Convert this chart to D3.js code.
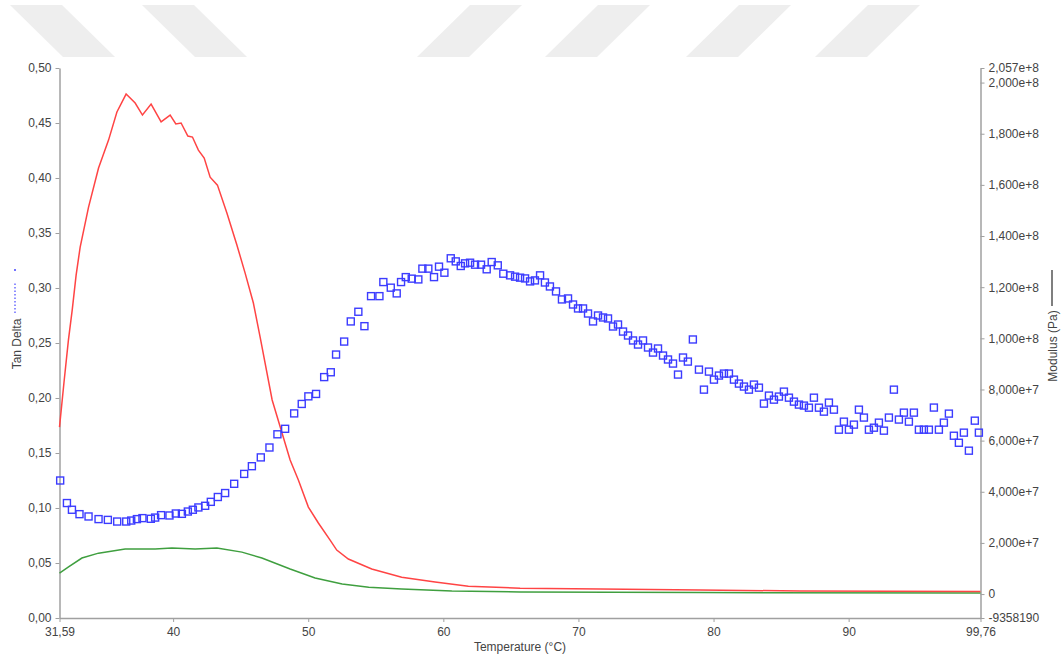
<!DOCTYPE html>
<html>
<head>
<meta charset="utf-8">
<script src="https://cdn.jsdelivr.net/npm/d3@7"></script>
<style>
	body { margin: 0; background: #fff; }
	svg { display: block; font-family: "Liberation Sans", Arial, sans-serif; }
</style>
</head>
<body>
<svg id="chart" width="1062" height="659"></svg>
<script>
// tan delta (left axis), blue squares
const tanTemp = [31.64, 32.14, 32.51, 33.07, 33.74, 34.48, 35.17, 35.86, 36.53, 36.90, 37.32, 37.73, 38.35, 38.67, 39.11, 39.73, 40.20, 40.65, 41.09, 41.46, 41.87, 42.37, 42.79, 43.31, 43.85, 44.52, 45.26, 45.83, 46.49, 47.13, 47.72, 48.29, 48.96, 49.52, 50.01, 50.58, 51.18, 51.67, 52.06, 52.66, 53.15, 53.71, 54.16, 54.65, 55.27, 55.56, 56.11, 56.55, 56.87, 57.22, 57.66, 58.15, 58.45, 58.89, 59.31, 59.68, 60.08, 60.55, 60.92, 61.29, 61.61, 61.98, 62.35, 62.79, 63.21, 63.58, 64.03, 64.44, 64.94, 65.31, 65.68, 66.05, 66.42, 66.78, 67.16, 67.52, 67.89, 68.34, 68.78, 69.23, 69.60, 69.97, 70.34, 70.71, 71.08, 71.45, 71.82, 72.19, 72.56, 72.93, 73.30, 73.67, 74.04, 74.41, 74.78, 75.15, 75.52, 75.89, 76.26, 76.63, 77.00, 77.37, 77.74, 78.10, 78.47, 78.92, 79.29, 79.66, 80.03, 80.40, 80.77, 81.14, 81.51, 81.88, 82.25, 82.62, 82.99, 83.36, 83.73, 84.10, 84.47, 84.84, 85.21, 85.58, 85.95, 86.32, 86.69, 87.06, 87.43, 87.80, 88.17, 88.54, 88.91, 89.28, 89.65, 90.02, 90.39, 90.76, 91.13, 91.50, 91.87, 92.24, 92.61, 92.98, 93.35, 93.72, 94.09, 94.46, 94.83, 95.20, 95.57, 95.94, 96.31, 96.68, 97.05, 97.42, 97.79, 98.16, 98.53, 98.90, 99.34, 99.64];
const tanDelta = [0.125, 0.1045, 0.0984, 0.0944, 0.0923, 0.0899, 0.0892, 0.0877, 0.0877, 0.0886, 0.0899, 0.0908, 0.0902, 0.0913, 0.0935, 0.0932, 0.095, 0.0947, 0.0968, 0.0984, 0.1005, 0.102, 0.1056, 0.110, 0.1136, 0.122, 0.131, 0.138, 0.146, 0.155, 0.167, 0.172, 0.186, 0.1946, 0.2015, 0.2037, 0.219, 0.2234, 0.2395, 0.2513, 0.2696, 0.2784, 0.2653, 0.2926, 0.2926, 0.3054, 0.3003, 0.2951, 0.3054, 0.3099, 0.3085, 0.3078, 0.3176, 0.3176, 0.3099, 0.3194, 0.3139, 0.327, 0.3242, 0.320, 0.3224, 0.323, 0.3212, 0.3212, 0.317, 0.3236, 0.3206, 0.313, 0.3115, 0.3103, 0.3094, 0.3087, 0.306, 0.3069, 0.3115, 0.305, 0.3014, 0.2969, 0.2896, 0.2905, 0.285, 0.2814, 0.2814, 0.2768, 0.2696, 0.275, 0.2732, 0.2723, 0.265, 0.2668, 0.2604, 0.2568, 0.2523, 0.2486, 0.2523, 0.2459, 0.2413, 0.245, 0.2386, 0.235, 0.2313, 0.2213, 0.2368, 0.2331, 0.2532, 0.2258, 0.2076, 0.224, 0.2167, 0.2204, 0.2222, 0.2222, 0.2167, 0.2131, 0.2104, 0.2076, 0.2122, 0.2094, 0.1949, 0.2022, 0.1985, 0.2013, 0.2058, 0.2003, 0.1967, 0.194, 0.1931, 0.1912, 0.2003, 0.1912, 0.1876, 0.1958, 0.1894, 0.1712, 0.1785, 0.1712, 0.1758, 0.1894, 0.1822, 0.1712, 0.173, 0.1776, 0.1703, 0.1822, 0.2076, 0.1804, 0.1867, 0.1785, 0.1867, 0.1712, 0.1712, 0.1712, 0.1913, 0.1712, 0.1776, 0.1858, 0.1657, 0.1593, 0.1685, 0.1521, 0.1794, 0.1685];

// storage modulus (right axis, Pa), red line
const storageTemp = [31.59, 31.94, 32.25, 32.53, 32.82, 33.12, 33.74, 34.48, 35.22, 35.84, 36.52, 37.19, 37.73, 38.37, 39.11, 39.78, 40.20, 40.59, 41.09, 41.43, 41.87, 42.30, 42.74, 43.28, 43.98, 44.72, 45.33, 45.94, 46.44, 47.33, 48.66, 49.27, 50.01, 50.75, 51.62, 52.11, 52.97, 54.70, 56.92, 59.39, 61.85, 65.68, 71.6, 79.0, 86.4, 99.76];
const storageMod = [65.3e6, 83.7e6, 99.3e6, 111.0e6, 124.7e6, 135.7e6, 151.3e6, 166.6e6, 177.5e6, 188.5e6, 195.5e6, 192.0e6, 187.3e6, 191.6e6, 184.6e6, 187.3e6, 183.8e6, 184.2e6, 179.1e6, 178.7e6, 173.6e6, 170.5e6, 163.0e6, 159.9e6, 149.0e6, 136.5e6, 125.5e6, 113.8e6, 100.5e6, 75.9e6, 52.4e6, 44.6e6, 34.0e6, 27.8e6, 21.1e6, 17.2e6, 13.7e6, 9.8e6, 6.6e6, 4.7e6, 3.1e6, 2.3e6, 2.0e6, 1.6e6, 1.2e6, 1.0e6];

// loss modulus (right axis, Pa), green line
const lossTemp = [31.59, 32.26, 33.25, 34.48, 36.45, 38.67, 39.91, 41.63, 43.24, 45.09, 46.57, 48.66, 50.51, 52.51, 54.48, 56.92, 60.63, 65.68, 79.0, 99.76];
const lossMod = [8.2e6, 10.6e6, 14.1e6, 16.0e6, 17.6e6, 17.6e6, 18.0e6, 17.6e6, 18.0e6, 16.4e6, 14.1e6, 9.8e6, 6.3e6, 3.9e6, 2.7e6, 2.0e6, 1.2e6, 0.8e6, 0.6e6, 0.4e6];

// tick values and labels
const xTicks = [31.59, 40, 50, 60, 70, 80, 90, 99.76];
const xTickLabels = ["31,59", "40", "50", "60", "70", "80", "90", "99,76"];
const leftTicks = [0, 0.05, 0.10, 0.15, 0.20, 0.25, 0.30, 0.35, 0.40, 0.45, 0.50];
const leftTickLabels = ["0,00", "0,05", "0,10", "0,15", "0,20", "0,25", "0,30", "0,35", "0,40", "0,45", "0,50"];
const rightTicks = [-9358190, 0, 2e7, 4e7, 6e7, 8e7, 1e8, 1.2e8, 1.4e8, 1.6e8, 1.8e8, 2e8, 2.057e8];
const rightTickLabels = ["-9358190", "0", "2,000e+7", "4,000e+7", "6,000e+7", "8,000e+7", "1,000e+8", "1,200e+8", "1,400e+8", "1,600e+8", "1,800e+8", "2,000e+8", "2,057e+8"];

const svg = d3.select("#chart");

// faint watermark stripes along the top
const stripes = [
	{ top: 10, dir: 1 }, { top: 142, dir: 1 },
	{ top: 470, dir: -1 }, { top: 598, dir: -1 }, { top: 739, dir: -1 }, { top: 868, dir: -1 }
];
svg.append("g")
	.selectAll("path")
	.data(stripes)
	.enter()
	.append("path")
	.attr("d", (d) => {
		const w = 52, s = 53 * d.dir;
		return "M" + d.top + ",5 L" + (d.top + w) + ",5 L" + (d.top + w + s) + ",57 L" + (d.top + s) + ",57 Z";
	})
	.attr("fill", "#eeeeee");

const x = d3.scaleLinear().domain([31.59, 99.76]).range([59.5, 980.5]);
const yL = d3.scaleLinear().domain([0, 0.5]).range([618, 68]);
const yR = d3.scaleLinear().domain([-9358190, 2.057e8]).range([618, 68]);

function styleAxis(g) {
	g.select(".domain").attr("stroke", "#a0a0a0").attr("stroke-width", 1.5);
	g.selectAll(".tick line").attr("stroke", "#a0a0a0");
	g.selectAll(".tick text").attr("fill", "#444").style("font-size", "12px");
}

svg.append("g")
	.attr("transform", "translate(0,618)")
	.call(d3.axisBottom(x).tickValues(xTicks).tickSize(4).tickSizeOuter(0).tickPadding(5)
		.tickFormat((d, i) => xTickLabels[i]))
	.call(styleAxis);

svg.append("g")
	.attr("transform", "translate(59.5,0)")
	.call(d3.axisLeft(yL).tickValues(leftTicks).tickSize(4).tickSizeOuter(0).tickPadding(4)
		.tickFormat((d, i) => leftTickLabels[i]))
	.call(styleAxis);

svg.append("g")
	.attr("transform", "translate(980.5,0)")
	.call(d3.axisRight(yR).tickValues(rightTicks).tickSize(4).tickSizeOuter(0).tickPadding(4)
		.tickFormat((d, i) => rightTickLabels[i]))
	.call(styleAxis);

// axis titles
svg.append("text")
	.attr("x", 520)
	.attr("y", 651)
	.attr("text-anchor", "middle")
	.attr("fill", "#444")
	.style("font-size", "12px")
	.text("Temperature (°C)");

svg.append("text")
	.attr("transform", "translate(21,344) rotate(-90)")
	.attr("text-anchor", "middle")
	.attr("fill", "#444")
	.style("font-size", "12px")
	.text("Tan Delta");

svg.append("line")
	.attr("x1", 15).attr("x2", 15)
	.attr("y1", 313).attr("y2", 283)
	.attr("stroke", "#4444ff")
	.attr("stroke-width", 1.2)
	.attr("stroke-dasharray", "1.5,2");
svg.append("circle")
	.attr("cx", 15).attr("cy", 270).attr("r", 1)
	.attr("fill", "#4444ff");

svg.append("text")
	.attr("transform", "translate(1057,346) rotate(-90)")
	.attr("text-anchor", "middle")
	.attr("fill", "#444")
	.style("font-size", "12px")
	.text("Modulus (Pa)");

svg.append("line")
	.attr("x1", 1052).attr("x2", 1052)
	.attr("y1", 270).attr("y2", 306)
	.attr("stroke", "#555")
	.attr("stroke-width", 1.5);

// series
const storage = storageTemp.map((t, i) => [t, storageMod[i]]);
const loss = lossTemp.map((t, i) => [t, lossMod[i]]);
const lineR = d3.line()
	.x((d) => x(d[0]))
	.y((d) => yR(d[1]));

svg.append("path")
	.datum(loss)
	.attr("d", lineR)
	.attr("fill", "none")
	.attr("stroke", "#3f9f3f")
	.attr("stroke-width", 1.5);

svg.append("path")
	.datum(storage)
	.attr("d", lineR)
	.attr("fill", "none")
	.attr("stroke", "#ff4444")
	.attr("stroke-width", 1.5);

const size = 7;
svg.append("g")
	.selectAll("rect")
	.data(tanTemp.map((t, i) => [t, tanDelta[i]]))
	.enter()
	.append("rect")
	.attr("x", (d) => x(d[0]) - size / 2)
	.attr("y", (d) => yL(d[1]) - size / 2)
	.attr("width", size)
	.attr("height", size)
	.attr("fill", "none")
	.attr("stroke", "#3c3cff")
	.attr("stroke-width", 1.4);
</script>
</body>
</html>
